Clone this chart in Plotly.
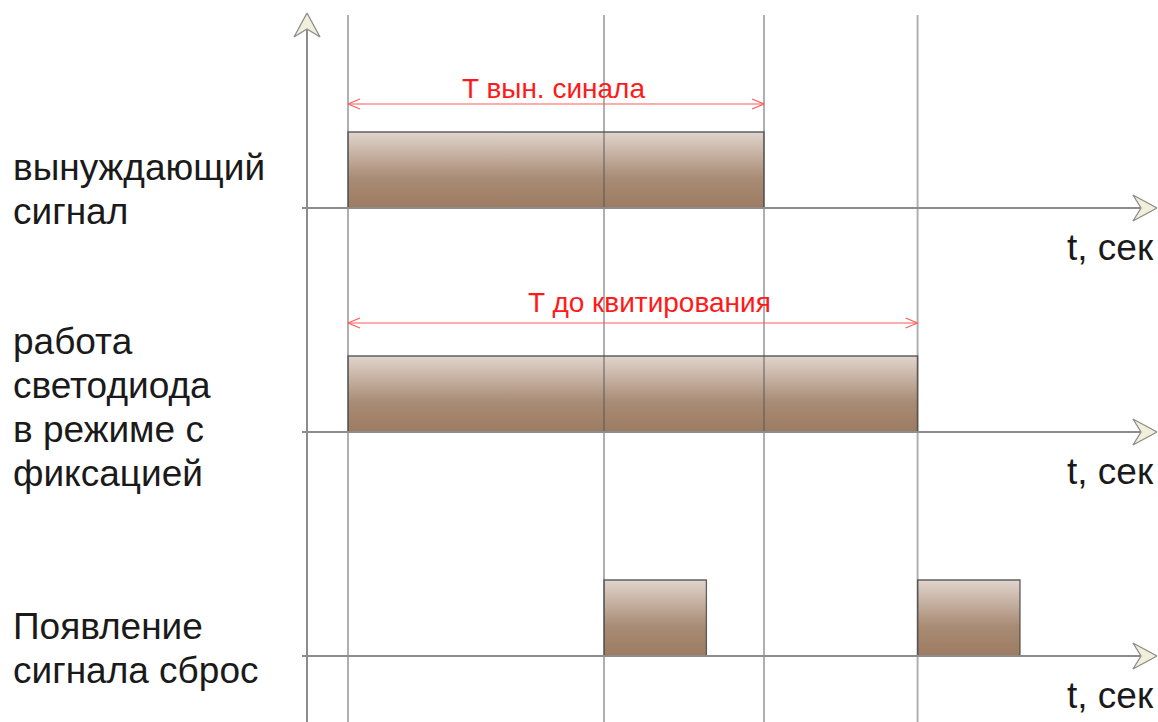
import plotly.graph_objects as go

# --- data (time in arbitrary seconds, level 0/1) ---
marks = [0.0, 4.0, 6.5, 8.9]          # vertical reference lines
forced_on = [0.0]
forced_off = [6.5]
led_on = [0.0]
led_off = [8.9]
reset_on = [4.0, 8.9]
reset_off = [5.6, 10.5]
span_start = [0.0, 0.0]
span_end = [6.5, 8.9]
span_labels = ["T вын. синала", "T до квитирования"]
lane_names = [["вынуждающий", "сигнал"],
              ["работа", "светодиода", "в режиме с", "фиксацией"],
              ["Появление", "сигнала сброс"]]
axis_label = "t, сек"

# --- canvas mapping (page px -> data) ---
W, H = 1158, 722
X0, PX = 348, 64      # px of t=0, px per second
Y0, PY = 208, 76      # px of first baseline, px per level unit
LANE_GAP = 224 / PY


def px2x(p):
    return (p - X0) / PX


def px2y(p):
    return (Y0 - p) / PY


def dx(p):
    return p / PX


def dy(p):
    return p / PY


bases = [-i * LANE_GAP for i in range(3)]
lanes = [(forced_on, forced_off), (led_on, led_off), (reset_on, reset_off)]

GRAD = [[0, "#9c7b61"], [0.4, "#a98c75"], [1, "#e1d5cd"]]
AXIS = "#8c8c8c"
FONT = "Liberation Sans, Arial"

fig = go.Figure()

# pulses
for b, (ons, offs) in zip(bases, lanes):
    for t0, t1 in zip(ons, offs):
        fig.add_trace(go.Scatter(
            x=[t0, t0, t1, t1, t0], y=[b, b + 1, b + 1, b, b],
            mode="lines", fill="toself",
            fillgradient=dict(type="vertical", colorscale=GRAD),
            line=dict(color="rgba(70,70,70,0.85)", width=1.3),
            hoverinfo="skip"))

# vertical reference lines (drawn over the pulses)
gx, gy = [], []
for t in marks:
    gx += [t, t, None]
    gy += [px2y(15), px2y(H + 5), None]
fig.add_trace(go.Scatter(x=gx, y=gy, mode="lines",
                         line=dict(color="rgba(80,80,80,0.45)", width=2),
                         hoverinfo="skip"))

# time axes
ax, ay = [], []
for b in bases:
    ax += [px2x(302), px2x(1150), None]
    ay += [b, b, None]
ax += [px2x(307), px2x(307), None]
ay += [px2y(H + 5), px2y(30), None]
fig.add_trace(go.Scatter(x=ax, y=ay, mode="lines",
                         line=dict(color=AXIS, width=2), hoverinfo="skip"))


def arrowhead(tx, ty, right=True):
    L, Hh, N = 24, 13, 8
    if right:
        xs = [tx, tx - dx(L), tx - dx(L - N), tx - dx(L), tx]
        ys = [ty, ty + dy(Hh), ty, ty - dy(Hh), ty]
    else:
        xs = [tx, tx - dx(Hh), tx, tx + dx(Hh), tx]
        ys = [ty, ty - dy(L), ty - dy(L - N), ty - dy(L), ty]
    return go.Scatter(x=xs, y=ys, mode="lines", fill="toself",
                      fillcolor="#f2eedc", line=dict(color=AXIS, width=1.3),
                      hoverinfo="skip")


for b in bases:
    fig.add_trace(arrowhead(px2x(1157), b))
fig.add_trace(arrowhead(px2x(307), px2y(13), right=False))

# red dimension spans
span_py = [104, 323]
text_py = [88, 302]
text_shift = [-3, 17]
rx, ry = [], []
for s, e, p in zip(span_start, span_end, span_py):
    y = px2y(p)
    rx += [s, e, None,
           s + dx(12), s, s + dx(12), None,
           e - dx(12), e, e - dx(12), None]
    ry += [y, y, None,
           y + dy(5), y, y - dy(5), None,
           y + dy(5), y, y - dy(5), None]
fig.add_trace(go.Scatter(x=rx, y=ry, mode="lines",
                         line=dict(color="#ff5a5a", width=1.2),
                         hoverinfo="skip"))
for s, e, lab, tp, sh in zip(span_start, span_end, span_labels, text_py, text_shift):
    fig.add_annotation(x=(s + e) / 2 + dx(sh), y=px2y(tp), text=lab,
                       showarrow=False, xanchor="center", yanchor="middle",
                       font=dict(family=FONT, size=28, color="#ff1a1a"))

# lane labels
label_centres = [[167, 211], [341, 385, 429, 473], [626, 670]]
for names, centres in zip(lane_names, label_centres):
    for name, c in zip(names, centres):
        fig.add_annotation(x=px2x(11), y=px2y(c), text=name, showarrow=False,
                           xanchor="left", yanchor="middle",
                           font=dict(family=FONT, size=37, color="#1a1a1a"))

# axis captions
for b in bases:
    fig.add_annotation(x=px2x(1156), y=b - dy(39), text=axis_label,
                       showarrow=False, xanchor="right", yanchor="middle",
                       font=dict(family=FONT, size=37, color="#1a1a1a"))

fig.update_layout(
    width=W, height=H, margin=dict(l=0, r=0, t=0, b=0),
    paper_bgcolor="white", plot_bgcolor="white", showlegend=False,
    xaxis=dict(range=[px2x(0), px2x(W)], visible=False, fixedrange=True),
    yaxis=dict(range=[px2y(H), px2y(0)], visible=False, fixedrange=True),
)

fig.write_html("out.html", config={"displayModeBar": False},
               post_script="document.body.style.margin='0';"
                           "document.body.style.overflow='hidden';")
